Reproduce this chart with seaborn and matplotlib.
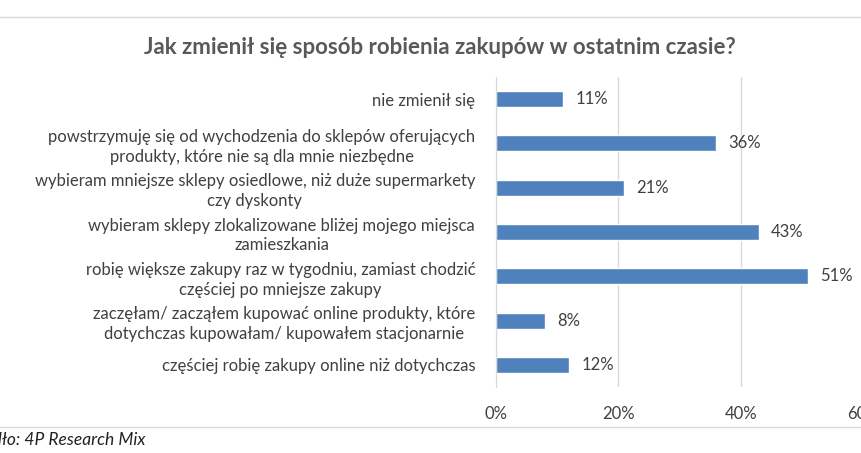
import pandas as pd
import matplotlib.pyplot as plt
import seaborn as sns
from matplotlib.lines import Line2D
from matplotlib.ticker import PercentFormatter

# Data
categories = [
    "nie zmienił się",
    "powstrzymuję się od wychodzenia do sklepów oferujących\nprodukty, które nie są dla mnie niezbędne",
    "wybieram mniejsze sklepy osiedlowe, niż duże supermarkety\nczy dyskonty",
    "wybieram sklepy zlokalizowane bliżej mojego miejsca\nzamieszkania",
    "robię większe zakupy raz w tygodniu, zamiast chodzić\nczęściej po mniejsze zakupy",
    "zaczęłam/ zacząłem kupować online produkty, które\ndotychczas kupowałam/ kupowałem stacjonarnie",
    "częściej robię zakupy online niż dotychczas",
]
values = [0.11, 0.36, 0.21, 0.43, 0.51, 0.08, 0.12]
x_ticks = [0, 0.2, 0.4, 0.6]

df = pd.DataFrame({"category": categories, "value": values})

sns.set_style("white")
plt.rcParams["font.family"] = ["Lato", "DejaVu Sans"]

text_color = "#404040"
bar_color = "#4F81BD"
grid_color = "#D9D9D9"

fig = plt.figure(figsize=(8.62, 4.53), dpi=100)
ax = fig.add_axes([496 / 862, 1 - 387 / 453, 367 / 862, 310 / 453])

sns.barplot(data=df, x="value", y="category", color=bar_color,
            width=0.36, ax=ax, saturation=1)

ax.set_xlim(0, 0.6)
ax.set_xticks(x_ticks)
ax.xaxis.set_major_formatter(PercentFormatter(1.0, decimals=0))
ax.set_xlabel("")
ax.set_ylabel("")
ax.grid(axis="x", color=grid_color, linewidth=1)
ax.set_axisbelow(True)

for side in ["top", "right", "bottom"]:
    ax.spines[side].set_visible(False)
ax.spines["left"].set_color(grid_color)

ax.tick_params(axis="x", length=0, pad=14, labelsize=12, labelcolor=text_color)
ax.tick_params(axis="y", which="major", length=0, pad=15, labelsize=12,
               labelcolor=text_color)
ax.set_yticks([i + 0.5 for i in range(len(categories) - 1)], minor=True)
ax.tick_params(axis="y", which="minor", length=4, color=grid_color, direction="out")
for lbl in ax.get_yticklabels():
    lbl.set_multialignment("center")
    lbl.set_linespacing(1.3)

for i, v in enumerate(values):
    ax.text(v + 0.02, i, f"{round(v * 100)}%", va="center", ha="left",
            fontsize=12, color=text_color)

fig.text(440 / 862, 1 - 48 / 453, "Jak zmienił się sposób robienia zakupów w ostatnim czasie?",
         ha="center", va="center", fontsize=16, fontweight="bold", color="#595959")

fig.add_artist(Line2D([0, 1], [1 - 17 / 453] * 2, color="#D9D9D9", linewidth=1))
fig.add_artist(Line2D([0, 1], [1 - 427 / 453] * 2, color="#D9D9D9", linewidth=1))

fig.text(-32 / 862, 1 - 440 / 453, "Źródło: 4P Research Mix", ha="left", va="center",
         fontsize=12.5, style="italic", color="#222222")

fig.savefig("out.png", dpi=100)
plt.close()
